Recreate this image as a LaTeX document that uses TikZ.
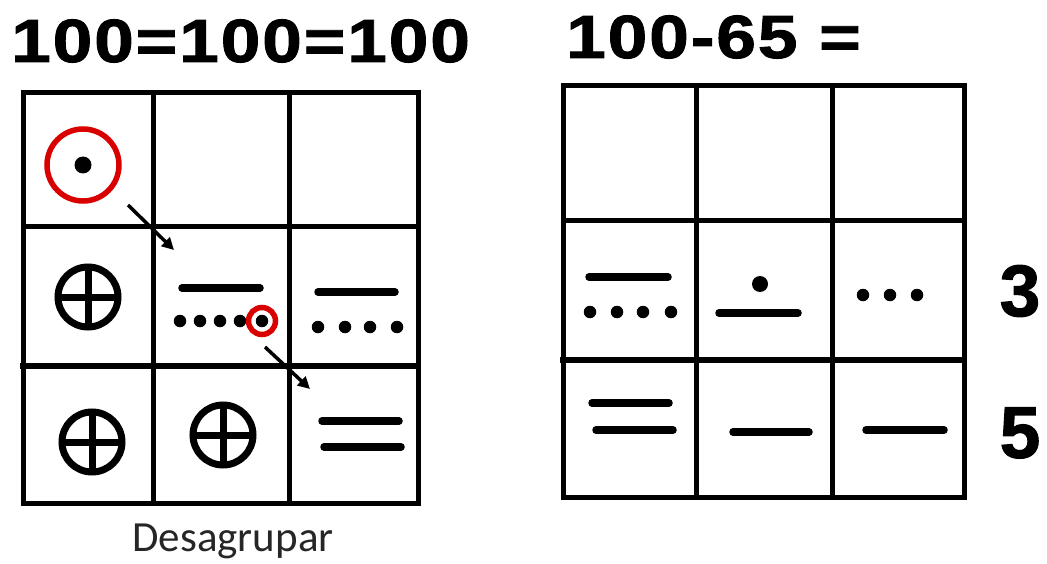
\documentclass[tikz,border=0pt]{standalone}
\usepackage{fontspec}
\setmainfont{Liberation Sans}
\newfontfamily\titlefont[FakeStretch=1.17,LetterSpace=3,FakeBold=1.5]{Liberation Sans}
\newfontfamily\sidefont[FakeBold=1.5]{Liberation Sans}
\newfontfamily\labelfont{Carlito}
\usetikzlibrary{arrows.meta}
\begin{document}
\begin{tikzpicture}[x=1pt,y=-1pt,
  gridline/.style={line width=5pt, line cap=rect},
  bar/.style={line width=7.5pt, line cap=round},
  ring/.style={circle, draw=red!85!black, line width=5.5pt, inner sep=0pt},
  mdot/.style={circle, fill=black, inner sep=0pt, minimum size=12.5pt},
  bigdot/.style={circle, fill=black, inner sep=0pt, minimum size=17pt},
  zerosign/.style={circle, draw=black, line width=7pt, inner sep=0pt, minimum size=60pt, path picture={
      \draw[line width=7pt] (path picture bounding box.north) -- (path picture bounding box.south)
        (path picture bounding box.west) -- (path picture bounding box.east);}},
  conn/.style={line width=3.5pt, -{Triangle[length=12pt,width=12pt]}},
  title/.style={inner sep=0pt, anchor=base west, font=\titlefont\bfseries\fontsize{61}{61}\selectfont},
  side/.style={inner sep=0pt, font=\sidefont\bfseries\fontsize{73}{73}\selectfont}]
\useasboundingbox (0,0) rectangle (1047,564);

% titles
\node[title] (t1) at (11,62) {100=100=100};
\node[title] (t2) at (566,58) {100-65 =};

% left grid
\draw[gridline] (23,93) rectangle (418,503);
\draw[gridline] (153,93) -- (153,503) (289,93) -- (289,503);
\draw[gridline] (23,227) -- (418,227);
\draw[gridline, line width=6.5pt] (23,366) -- (418,366);

% right grid
\draw[gridline] (563,86) rectangle (964,497);
\draw[gridline] (696,86) -- (696,497) (832,86) -- (832,497);
\draw[gridline] (563,221) -- (964,221);
\draw[gridline, line width=6.5pt] (563,360) -- (964,360);

% left grid, cell (0,0)
\node[ring, minimum size=72pt] (r1) at (83,165) {};
\node[bigdot] (d1) at (83,165) {};
\coordinate (a1s) at (128,205);
\coordinate (a1e) at (174,250);
\draw[conn] (a1s) -- (a1e);

% left grid, zeros
\node[zerosign] (z1) at (88,297) {};
\node[zerosign] (z2) at (92,442) {};
\node[zerosign] (z3) at (223,435) {};

% left grid, cell (1,1)
\draw[bar] (182,288) -- (260,288);
\foreach \x/\n in {180/a,200/b,220/c,240/d,262/e} \node[mdot] (l\n) at (\x,321) {};
\node[ring, minimum size=27pt] (r2) at (262,321) {};
\coordinate (a2s) at (265,347);
\coordinate (a2e) at (310,389);
\draw[conn] (a2s) -- (a2e);

% left grid, cell (1,2)
\draw[bar] (318,292) -- (395,292);
\foreach \x/\n in {318/a,345/b,370/c,397/d} \node[mdot] (m\n) at (\x,327) {};

% left grid, cell (2,2)
\draw[bar] (322,421) -- (399,421);
\draw[bar] (324,447) -- (401,447);

% right grid, cell (1,0)
\draw[bar] (589,277) -- (668,277);
\foreach \x/\n in {590/a,617/b,643/c,671/d} \node[mdot] (p\n) at (\x,312) {};

% right grid, cell (1,1)
\node[bigdot, minimum size=16pt] (q1) at (760,284) {};
\draw[bar] (719,313) -- (798,313);

% right grid, cell (1,2)
\foreach \x/\n in {863/a,890/b,917/c} \node[mdot] (s\n) at (\x,295) {};

% right grid, row 2
\draw[bar] (592,403) -- (669,403);
\draw[bar] (596,430) -- (673,430);
\draw[bar] (733,432) -- (809,432);
\draw[bar] (866,430) -- (944,430);

% side numbers
\node[side] (n3) at (1020,291) {3};
\node[side] (n5) at (1020,433) {5};

% caption
\node[inner sep=0pt, text=black!85, font=\labelfont\fontsize{43}{43}\selectfont] (cap) at (233,541) {Desagrupar};
\end{tikzpicture}
\end{document}
